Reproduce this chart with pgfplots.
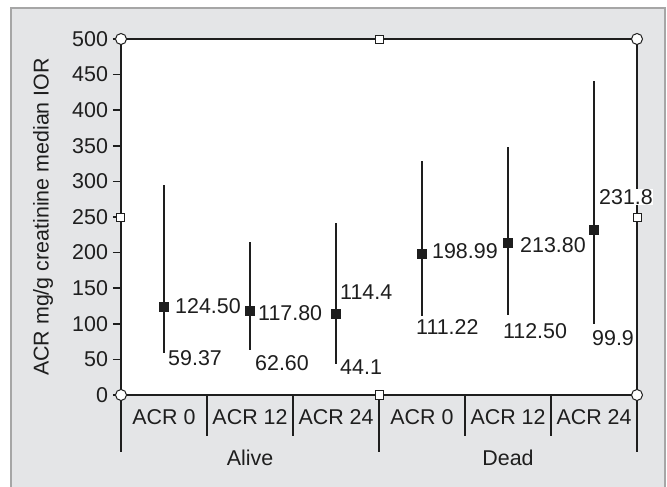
\documentclass[border=0pt]{standalone}
\usepackage{fontspec}
\setmainfont{Liberation Sans}
\usepackage{pgfplots}
\pgfplotsset{compat=1.18}
\usepackage{pgfplotstable}

\definecolor{bggray}{HTML}{E4E5E7}
\definecolor{framegray}{HTML}{A6A6A6}
\definecolor{ink}{HTML}{1E1E1E}
\newcommand\lbl{\fontsize{21.5}{25}\selectfont}

% x = category centre, med = median, lo/hi = IQR ends
\pgfplotstableread{
x    med     lo      hi
0.5  124.50  59.37   295
1.5  117.80  62.60   215
2.5  114.4   44.1    242
3.5  198.99  111.22  329
4.5  213.80  112.50  348
5.5  231.8   99.9    441
}\acrdata

\begin{document}
\begin{tikzpicture}
  \fill[white] (-121bp,-92bp) rectangle (546bp,395bp);
  \filldraw[fill=bggray, draw=framegray, line width=1.2bp] (-110bp,-100bp) rectangle (544bp,387bp);
  \begin{axis}[
    width=516bp, height=356bp, scale only axis,
    xmin=0, xmax=6, ymin=0, ymax=500,
    axis background/.style={fill=white},
    axis line style={ink, line width=1.5bp},
    xtick=\empty,
    ytick={0,50,...,500}, ytick pos=left,
    tick align=outside, major tick length=8bp,
    tick style={ink, line width=1.5bp},
    tick label style={font=\lbl, text=ink},
    yticklabel style={xshift=-1.5bp},
    /pgf/number format/assume math mode=true,
    clip=false,
  ]
    \addplot[only marks, mark=square*, mark size=4.5bp, color=ink,
      error bars/.cd, y dir=both, y explicit, error mark=none,
      error bar style={line width=2.2bp, color=ink}]
      table[x=x, y=med,
        y error plus expr=\thisrow{hi}-\thisrow{med},
        y error minus expr=\thisrow{med}-\thisrow{lo}] {\acrdata};

    % value labels
    \begin{scope}[every node/.style={anchor=west, inner sep=0pt, font=\lbl, text=ink}]
      \node at (axis cs:0.628,124.5) {124.50};
      \node at (axis cs:0.547,52) {59.37};
      \node at (axis cs:1.593,115) {117.80};
      \node at (axis cs:1.558,45) {62.60};
      \node at (axis cs:2.547,144.7) {114.4};
      \node at (axis cs:2.547,39.3) {44.1};
      \node at (axis cs:3.616,202) {198.99};
      \node at (axis cs:3.43,95.5) {111.22};
      \node at (axis cs:4.64,210) {213.80};
      \node at (axis cs:4.44,90) {112.50};
      \node[fill=white] at (axis cs:5.558,278) {231.8};
      \node at (axis cs:5.477,80) {99.9};
    \end{scope}

    % category axis
    \draw[ink, line width=1.5bp] (axis cs:1,0) -- ++(0,-41bp);
    \draw[ink, line width=1.5bp] (axis cs:2,0) -- ++(0,-41bp);
    \draw[ink, line width=1.5bp] (axis cs:4,0) -- ++(0,-41bp);
    \draw[ink, line width=1.5bp] (axis cs:5,0) -- ++(0,-41bp);
    \draw[ink, line width=1.5bp] (axis cs:0,0) -- ++(0,-57bp);
    \draw[ink, line width=1.5bp] (axis cs:3,0) -- ++(0,-57bp);
    \draw[ink, line width=1.5bp] (axis cs:6,0) -- ++(0,-57bp);
    \begin{scope}[every node/.style={font=\lbl, text=ink}]
      \node[yshift=-22bp] at (axis cs:0.5,0) {ACR 0};
      \node[yshift=-22bp] at (axis cs:1.5,0) {ACR 12};
      \node[yshift=-22bp] at (axis cs:2.5,0) {ACR 24};
      \node[yshift=-22bp] at (axis cs:3.5,0) {ACR 0};
      \node[yshift=-22bp] at (axis cs:4.5,0) {ACR 12};
      \node[yshift=-22bp] at (axis cs:5.5,0) {ACR 24};
      \node[yshift=-63bp] at (axis cs:1.5,0) {Alive};
      \node[yshift=-63bp] at (axis cs:4.5,0) {Dead};
      \node[rotate=90] at (axis cs:-0.907,250) {ACR mg/g creatinine median IOR};
    \end{scope}

    % selection handles
    \begin{scope}[every node/.style={draw=ink, fill=white, inner sep=0pt, line width=1bp}]
      \node[circle, minimum size=11bp] at (rel axis cs:0,0) {};
      \node[circle, minimum size=11bp] at (rel axis cs:0,1) {};
      \node[circle, minimum size=11bp] at (rel axis cs:1,0) {};
      \node[circle, minimum size=11bp] at (rel axis cs:1,1) {};
      \node[minimum size=8bp] at (rel axis cs:0.5,0) {};
      \node[minimum size=8bp] at (rel axis cs:0.5,1) {};
      \node[minimum size=8bp] at (rel axis cs:0,0.5) {};
      \node[minimum size=8bp] at (rel axis cs:1,0.5) {};
    \end{scope}
  \end{axis}
  \pgfresetboundingbox
  \path (-121bp,-92bp) rectangle (546bp,395bp);
\end{tikzpicture}
\end{document}
